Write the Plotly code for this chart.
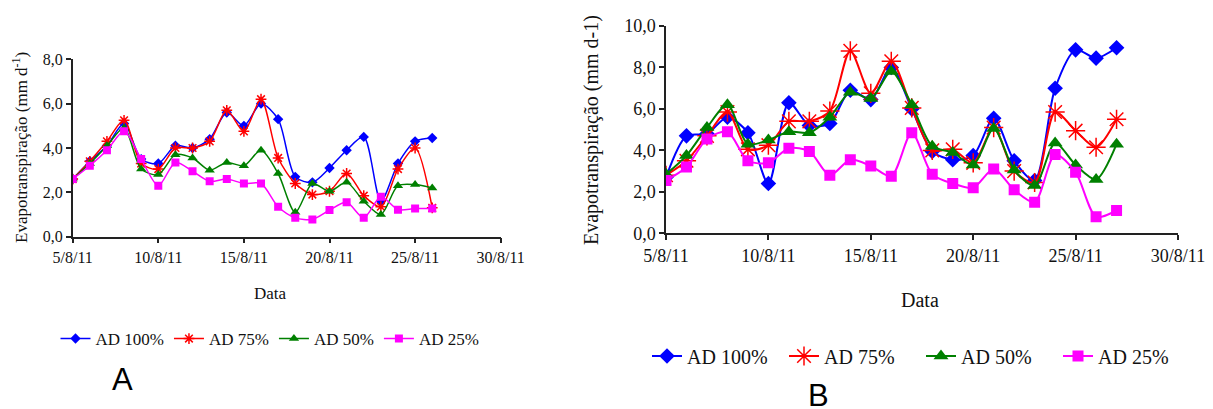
import plotly.graph_objects as go
import pandas as pd

# ---------------- data ----------------
dates_a = pd.date_range("2011-08-05", "2011-08-26").strftime("%Y-%m-%d").tolist()
dates_b = pd.date_range("2011-08-05", "2011-08-27").strftime("%Y-%m-%d").tolist()

series_names = ["AD 100%", "AD 75%", "AD 50%", "AD 25%"]

a_ad100 = [2.6, 3.4, 4.1, 5.1, 3.5, 3.3, 4.1, 4.0, 4.4, 5.6, 5.0, 6.0, 5.3, 2.7, 2.45, 3.1, 3.9, 4.5, 1.6, 3.3, 4.3, 4.45]
a_ad75 = [2.6, 3.4, 4.3, 5.25, 3.3, 3.05, 4.0, 4.0, 4.3, 5.7, 4.75, 6.2, 3.55, 2.4, 1.9, 2.05, 2.85, 1.85, 1.35, 3.05, 4.0, 1.3]
a_ad50 = [2.6, 3.3, 4.1, 4.9, 3.05, 2.8, 3.7, 3.55, 3.0, 3.35, 3.2, 3.9, 2.85, 1.1, 2.4, 2.05, 2.45, 1.6, 1.0, 2.3, 2.35, 2.2]
a_ad25 = [2.6, 3.2, 3.9, 4.75, 3.5, 2.3, 3.35, 2.95, 2.5, 2.6, 2.4, 2.4, 1.35, 0.85, 0.78, 1.2, 1.55, 0.85, 1.8, 1.22, 1.27, 1.27]

b_ad100 = [2.7, 4.7, 4.8, 5.6, 4.85, 2.4, 6.3, 5.2, 5.3, 6.9, 6.45, 8.0, 6.0, 3.95, 3.55, 3.75, 5.55, 3.5, 2.55, 7.0, 8.85, 8.45, 8.95]
b_ad75 = [2.8, 3.5, 4.7, 5.85, 4.05, 4.25, 5.4, 5.4, 5.9, 8.8, 6.75, 8.3, 6.05, 4.0, 4.05, 3.4, 5.1, 3.0, 2.45, 5.85, 4.95, 4.15, 5.5]
b_ad50 = [2.85, 3.75, 5.1, 6.2, 4.3, 4.5, 4.9, 4.85, 5.6, 6.8, 6.5, 7.8, 6.2, 4.2, 3.9, 3.3, 5.05, 3.05, 2.3, 4.35, 3.3, 2.6, 4.3]
b_ad25 = [2.55, 3.2, 4.55, 4.9, 3.5, 3.4, 4.1, 3.95, 2.8, 3.55, 3.25, 2.75, 4.85, 2.85, 2.4, 2.2, 3.1, 2.1, 1.5, 3.8, 2.95, 0.8, 1.1]

x_tickvals = ["2011-08-05", "2011-08-10", "2011-08-15", "2011-08-20", "2011-08-25", "2011-08-30"]
x_ticktext = ["5/8/11", "10/8/11", "15/8/11", "20/8/11", "25/8/11", "30/8/11"]
ya_tickvals = [0, 2, 4, 6, 8]
ya_ticktext = ["0,0", "2,0", "4,0", "6,0", "8,0"]
yb_tickvals = [0, 2, 4, 6, 8, 10]
yb_ticktext = ["0,0", "2,0", "4,0", "6,0", "8,0", "10,0"]

# ---------------- style ----------------
PAGE_W, PAGE_H = 1213, 409
OFF = 8  # default page body margin
W, H = PAGE_W - OFF, PAGE_H - OFF
colors = ["#0000FF", "#FF0000", "#008000", "#FF00FF"]
symbols = ["diamond", "asterisk-open", "triangle-up", "square"]
sizes_a = [8, 9, 9, 8]
sizes_b = [12, 16, 13, 11]
FONT = "Liberation Serif"
SANS = "Liberation Sans"

fig = go.Figure()

for name, ys, c, s, sz in zip(series_names, [a_ad100, a_ad75, a_ad50, a_ad25], colors, symbols, sizes_a):
    fig.add_trace(go.Scatter(
        x=dates_a, y=ys, name=name, mode="lines+markers",
        line=dict(color=c, width=1.5, shape="spline", smoothing=0.8),
        marker=dict(symbol=s, size=sz, color=c, line=dict(color=c, width=1.5 if "asterisk" in s else 0)),
        xaxis="x", yaxis="y", legend="legend",
    ))

for name, ys, c, s, sz in zip(series_names, [b_ad100, b_ad75, b_ad50, b_ad25], colors, symbols, sizes_b):
    fig.add_trace(go.Scatter(
        x=dates_b, y=ys, name=name, mode="lines+markers",
        line=dict(color=c, width=2, shape="spline", smoothing=0.8),
        marker=dict(symbol=s, size=sz, color=c, line=dict(color=c, width=1.5 if "asterisk" in s else 0)),
        xaxis="x2", yaxis="y2", legend="legend2",
    ))


def px_x(p):
    return (p - OFF) / W


def px_y(p):
    return (PAGE_H - p) / H


axis_common = dict(showline=True, linecolor="#222", linewidth=1.5, ticks="outside",
                   ticklen=5, tickwidth=1.5, tickcolor="#222", showgrid=False,
                   zeroline=False, mirror=False, automargin=False)

fig.update_layout(
    width=W, height=H,
    margin=dict(l=0, r=0, t=0, b=0, pad=0, autoexpand=False),
    paper_bgcolor="white", plot_bgcolor="white",
    font=dict(family=FONT, color="#111"),
    xaxis=dict(domain=[px_x(72.7), px_x(500.7)], anchor="y", type="date",
               range=["2011-08-05", "2011-08-30"], tickmode="array",
               tickvals=x_tickvals, ticktext=x_ticktext,
               tickfont=dict(size=16, family=FONT), **axis_common),
    yaxis=dict(domain=[px_y(236.7), px_y(59.3)], anchor="x", range=[0, 8],
               tickmode="array", tickvals=ya_tickvals, ticktext=ya_ticktext,
               tickfont=dict(size=16, family=FONT), **axis_common),
    xaxis2=dict(domain=[px_x(666), px_x(1178)], anchor="y2", type="date",
                range=["2011-08-05", "2011-08-30"], tickmode="array",
                tickvals=x_tickvals, ticktext=x_ticktext,
                tickfont=dict(size=18, family=FONT), **axis_common),
    yaxis2=dict(domain=[px_y(233.3), px_y(26)], anchor="x2", range=[0, 10],
                tickmode="array", tickvals=yb_tickvals, ticktext=yb_ticktext,
                tickfont=dict(size=18, family=FONT), **axis_common),
    legend=dict(orientation="h", x=px_x(270), y=px_y(339), xanchor="center", yanchor="middle",
                font=dict(size=17, family=FONT), bgcolor="rgba(0,0,0,0)", itemclick=False),
    legend2=dict(orientation="h", x=px_x(921), y=px_y(356), xanchor="center", yanchor="middle",
                 font=dict(size=20, family=FONT), bgcolor="rgba(0,0,0,0)", itemclick=False,
                 entrywidth=92),
    showlegend=True,
)

annotations = [
    dict(text="Evapotranspiração (mm d<sup>-1</sup>)", x=px_x(20), y=px_y(148), textangle=-90,
         font=dict(size=17, family=FONT)),
    dict(text="Data", x=px_x(270), y=px_y(293), font=dict(size=17, family=FONT)),
    dict(text="A", x=px_x(123), y=px_y(379), font=dict(size=31, family=SANS, color="black")),
    dict(text="Evapotranspiração (mm d-1)", x=px_x(591), y=px_y(247), textangle=-90, yanchor="bottom",
         font=dict(size=20, family=FONT)),
    dict(text="Data", x=px_x(920), y=px_y(300), font=dict(size=20, family=FONT)),
    dict(text="B", x=px_x(818), y=px_y(395), font=dict(size=31, family=SANS, color="black")),
]
for a in annotations:
    a.update(xref="paper", yref="paper", showarrow=False)
    a.setdefault("xanchor", "center")
    a.setdefault("yanchor", "middle")
fig.update_layout(annotations=annotations)

fig.write_html("out.html")
